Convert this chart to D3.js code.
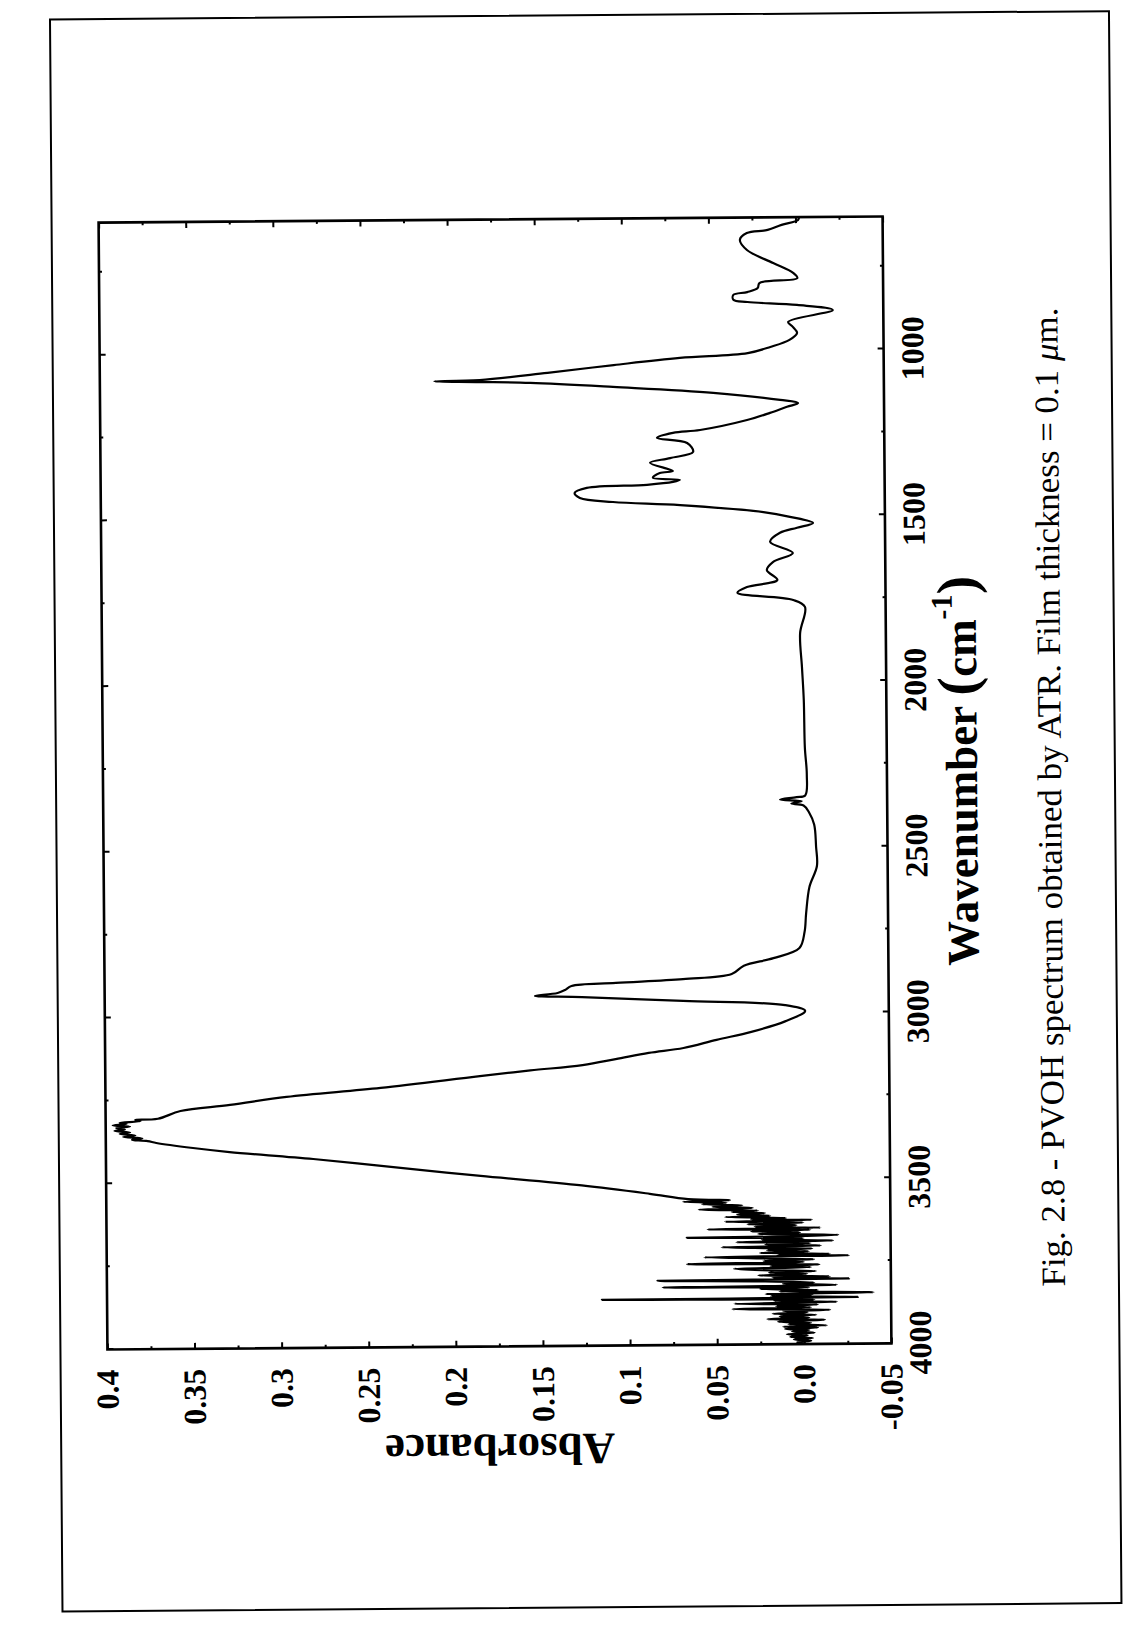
<!DOCTYPE html>
<html>
<head>
<meta charset="utf-8">
<script src="https://cdn.jsdelivr.net/npm/d3@7"></script>
<style>
  body { margin: 0; background: #fff; }
  svg { display: block; }
  .axis text { font-family: "Liberation Serif", serif; font-weight: bold; font-size: 32px; fill: #000; }
  .axis line { stroke: #000; stroke-width: 2; }
</style>
</head>
<body>
<svg id="chart" width="1137" height="1625"></svg>
<script>
var pageW = 1137,
    pageH = 1625,
    W = 1127,   // length of the wavenumber axis (runs up the page)
    H = 784;    // length of the absorbance axis (runs across the page)

// tick values and labels
var wnMajor = [4000, 3500, 3000, 2500, 2000, 1500, 1000];
var wnMinor = [3750, 3250, 2750, 2250, 1750, 1250, 750];
var absMajor = [0.4, 0.35, 0.3, 0.25, 0.2, 0.15, 0.1, 0.05, 0.0, -0.05];
var absLabels = ["0.4", "0.35", "0.3", "0.25", "0.2", "0.15", "0.1", "0.05", "0.0", "-0.05"];
var absMinor = [0.375, 0.325, 0.275, 0.225, 0.175, 0.125, 0.075, 0.025, -0.025];

// spectrum: [wavenumber, absorbance]
var noisy = [
  [3998, 0.000], [3994, 0.004], [3990, -0.004], [3986, 0.006], [3982, -0.005], [3978, 0.008],
  [3974, -0.002], [3970, 0.010], [3966, -0.006], [3962, 0.007], [3958, -0.003], [3954, 0.011],
  [3950, -0.008], [3947, 0.012], [3944, -0.013], [3940, 0.009], [3936, -0.004], [3932, 0.015],
  [3927, -0.012], [3924, 0.021], [3920, -0.003], [3916, 0.014], [3912, -0.007], [3908, 0.018],
  [3904, -0.002], [3900, 0.012], [3897, -0.015], [3893, 0.041], [3889, -0.004], [3885, 0.016],
  [3881, -0.008], [3877, 0.040], [3873, -0.019], [3869, 0.017], [3866, -0.006], [3862, 0.116],
  [3859, -0.031], [3855, 0.019], [3851, -0.005], [3848, 0.022], [3845, -0.040], [3841, 0.014],
  [3837, -0.008], [3833, 0.025], [3829, -0.003], [3826, 0.081], [3822, -0.019], [3818, 0.012],
  [3814, -0.006], [3810, 0.022], [3806, 0.084], [3803, -0.026], [3799, 0.018], [3796, -0.015],
  [3792, 0.026], [3788, -0.002], [3784, 0.020], [3780, -0.007], [3776, 0.024], [3771, 0.040],
  [3768, -0.004], [3764, 0.019], [3760, -0.009], [3756, 0.067], [3752, 0.000], [3748, 0.023],
  [3744, -0.006], [3740, 0.027], [3736, 0.057], [3733, -0.026], [3731, 0.015], [3728, -0.015],
  [3724, 0.025], [3720, -0.003], [3716, 0.021], [3712, -0.005], [3709, 0.028], [3706, 0.047],
  [3703, -0.010], [3699, 0.022], [3695, -0.004], [3691, 0.0385], [3688, -0.017], [3684, 0.024],
  [3680, 0.000], [3677, 0.067], [3674, -0.002], [3671, -0.020], [3667, 0.026], [3663, 0.002],
  [3659, 0.030], [3655, -0.004], [3652, 0.055], [3649, -0.010], [3645, 0.028], [3641, 0.004],
  [3637, 0.032], [3633, 0.000], [3629, 0.045], [3625, -0.005], [3622, 0.030], [3619, 0.010],
  [3615, 0.045], [3612, 0.019], [3608, 0.038], [3604, 0.022], [3600, 0.041], [3596, 0.026],
  [3592, 0.060], [3588, 0.029], [3584, 0.052], [3580, 0.035], [3576, 0.058], [3572, 0.044],
  [3568, 0.069], [3564, 0.042], [3560, 0.066]
];
var ohBand = [
  [3543, 0.088], [3516, 0.127], [3485, 0.185], [3463, 0.224], [3430, 0.281], [3407, 0.329],
  [3394, 0.350], [3378, 0.371], [3372, 0.376], [3368, 0.385], [3364, 0.379], [3359, 0.390],
  [3355, 0.383], [3350, 0.392], [3346, 0.386], [3341, 0.395], [3337, 0.389], [3332, 0.394],
  [3328, 0.386], [3324, 0.396], [3320, 0.388], [3316, 0.392], [3312, 0.380], [3308, 0.383],
  [3305, 0.370], [3282, 0.357], [3265, 0.3285], [3242, 0.296], [3217, 0.242], [3184, 0.185],
  [3168, 0.156], [3153, 0.126], [3136, 0.107], [3118, 0.088], [3104, 0.068], [3080, 0.049],
  [3057, 0.029], [3026, 0.0096], [2995, -0.002]
];
var chBand = [
  [2977, 0.0095], [2962, 0.068], [2948, 0.126], [2943, 0.153], [2935, 0.140], [2926, 0.1357],
  [2914, 0.132], [2906, 0.1065], [2896, 0.068], [2882, 0.040], [2857, 0.033], [2835, 0.016],
  [2805, 0.001], [2757, -0.002], [2700, -0.003], [2621, -0.005], [2558, -0.0094], [2500, -0.009],
  [2433, -0.008], [2395, -0.005], [2375, -0.002], [2369, 0.005], [2362, -0.001], [2357, 0.0115],
  [2350, 0.002], [2345, -0.003], [2282, -0.004], [2200, -0.003], [2057, -0.0026], [1957, -0.0017],
  [1855, -0.0008], [1776, -0.0037]
];
var fingerprint = [
  [1755, 0.003], [1732, 0.035], [1715, 0.0295], [1694, 0.012], [1664, 0.018], [1640, 0.0145],
  [1613, 0.003], [1579, 0.016], [1552, 0.0103], [1537, 0.0005], [1523, -0.0087], [1504, 0.0045],
  [1489, 0.0197], [1466, 0.0675], [1455, 0.106], [1442, 0.125], [1427, 0.128], [1412, 0.121],
  [1404, 0.0864], [1396, 0.0715], [1390, 0.0675], [1383, 0.083], [1369, 0.079], [1363, 0.0715],
  [1338, 0.0846], [1324, 0.073], [1306, 0.0598], [1279, 0.0632], [1263, 0.0805], [1248, 0.0713],
  [1240, 0.0557], [1211, 0.0287], [1190, 0.0155], [1172, 0.0057], [1161, -0.0007], [1151, 0.0096],
  [1128, 0.048], [1108, 0.1055], [1094, 0.153], [1090, 0.182], [1087, 0.208], [1084, 0.182],
  [1064, 0.143], [1042, 0.105], [1022, 0.067], [1009, 0.028], [991, 0.015], [970, 0.004],
  [949, -0.0004], [931, 0.002], [916, 0.0047], [881, -0.021], [865, -0.0005], [855, 0.028],
  [848, 0.036], [833, 0.036], [825, 0.028], [813, 0.022], [798, 0.021], [784, -0.0008],
  [768, 0.0016], [738, 0.013], [698, 0.028], [667, 0.032], [647, 0.028], [638, 0.016],
  [623, 0.008], [609, -0.0015], [600, -0.002]
];
var spectrum = noisy.concat(ohBand, chBand, fingerprint);

var x = d3.scaleLinear().domain([4000, 600]).range([0, W]);
var y = d3.scaleLinear().domain([-0.05, 0.4]).range([H, 0]);

var svg = d3.select("#chart");
svg.append("rect").attr("width", pageW).attr("height", pageH).attr("fill", "#fff");

// the scanned page sits slightly crooked
var page = svg.append("g").attr("transform", "rotate(-0.45,495,783)");

page.append("rect")
    .attr("x", 56).attr("y", 16)
    .attr("width", 1059).attr("height", 1592)
    .attr("fill", "none").attr("stroke", "#000").attr("stroke-width", 2);

// the plot is printed landscape: turn it a quarter round
var g = page.append("g").attr("transform", "translate(103,1346.5) rotate(-90)");

function noDomain(sel) { sel.select(".domain").remove(); }

g.append("g").attr("class", "axis").attr("transform", "translate(0," + H + ")")
    .call(d3.axisBottom(x).tickValues(wnMajor).tickFormat(d3.format("d")).tickSize(-6).tickPadding(17))
    .call(noDomain);
g.append("g").attr("class", "axis").attr("transform", "translate(0," + H + ")")
    .call(d3.axisBottom(x).tickValues(wnMinor).tickFormat("").tickSize(-3))
    .call(noDomain);
g.append("g").attr("class", "axis")
    .call(d3.axisTop(x).tickValues(wnMajor).tickFormat("").tickSize(-6))
    .call(noDomain);
g.append("g").attr("class", "axis")
    .call(d3.axisTop(x).tickValues(wnMinor).tickFormat("").tickSize(-3))
    .call(noDomain);

g.append("g").attr("class", "axis")
    .call(d3.axisLeft(y).tickValues(absMajor).tickFormat(function(d, i) { return absLabels[i]; })
      .tickSize(-6).tickPadding(20))
    .call(noDomain);
g.append("g").attr("class", "axis")
    .call(d3.axisLeft(y).tickValues(absMinor).tickFormat("").tickSize(-3))
    .call(noDomain);
g.append("g").attr("class", "axis").attr("transform", "translate(" + W + ",0)")
    .call(d3.axisRight(y).tickValues(absMajor).tickFormat("").tickSize(-6))
    .call(noDomain);
g.append("g").attr("class", "axis").attr("transform", "translate(" + W + ",0)")
    .call(d3.axisRight(y).tickValues(absMinor).tickFormat("").tickSize(-3))
    .call(noDomain);

g.append("rect")
    .attr("width", W).attr("height", H)
    .attr("fill", "none").attr("stroke", "#000").attr("stroke-width", 2.6);

var line = d3.line()
    .curve(d3.curveCatmullRom.alpha(0.5))
    .x(function(d) { return x(d[0]); })
    .y(function(d) { return y(d[1]); });

g.append("path")
    .datum(spectrum)
    .attr("d", line)
    .attr("fill", "none")
    .attr("stroke", "#000")
    .attr("stroke-width", 2.2)
    .attr("stroke-linejoin", "round");

// axis titles
g.append("text")
    .attr("transform", "translate(-88," + (H / 2) + ") rotate(-90)")
    .attr("text-anchor", "middle")
    .style("font-family", "'Liberation Serif', serif")
    .style("font-weight", "bold")
    .style("font-size", "45px")
    .text("Absorbance");

var xt = g.append("text")
    .attr("x", 572).attr("y", H + 90)
    .attr("text-anchor", "middle")
    .style("font-family", "'Liberation Serif', serif")
    .style("font-weight", "bold")
    .style("font-size", "45px");
xt.append("tspan").text("Wavenumber ");
xt.append("tspan").style("font-size", "56px").text("(");
xt.append("tspan").text("cm");
xt.append("tspan").attr("dy", -24).style("font-size", "30px").text("-1");
xt.append("tspan").attr("dy", 24).style("font-size", "56px").text(")");

// caption
var cap = g.append("text")
    .attr("x", 545).attr("y", H + 174)
    .attr("text-anchor", "middle")
    .attr("textLength", 979)
    .attr("lengthAdjust", "spacingAndGlyphs")
    .style("font-family", "'Liberation Serif', serif")
    .style("font-size", "34px");
cap.append("tspan").text("Fig. 2.8 - PVOH spectrum obtained by ATR. Film thickness = 0.1 ");
cap.append("tspan").style("font-style", "italic").text("\u03bc");
cap.append("tspan").text("m.");
</script>
</body>
</html>
